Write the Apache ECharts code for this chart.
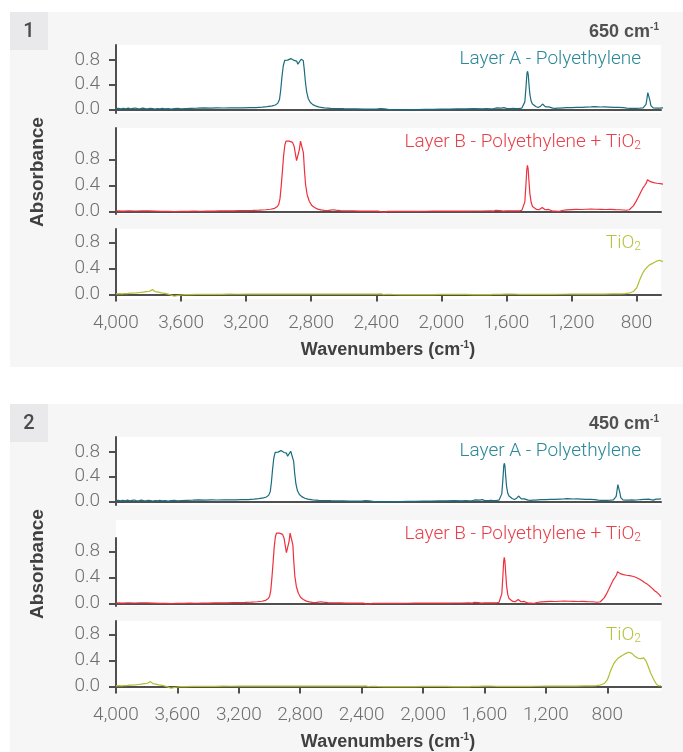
<!DOCTYPE html>
<html>
<head>
<meta charset="utf-8">
<title>Absorbance spectra</title>
<script src="https://cdn.jsdelivr.net/npm/echarts@6/dist/echarts.min.js"></script>
<style>
  html, body { margin: 0; padding: 0; background: #fff; }
  #chart { width: 683px; height: 752px; }
</style>
</head>
<body>
<div id="chart"></div>
<script>
// tick labels
const xTicks = [4000, 3600, 3200, 2800, 2400, 2000, 1600, 1200, 800];
const yTicks = [0, 0.4, 0.8];
const cutoffs = [650, 450];

// Layer A - Polyethylene
const layerAWn = [4000, 3985, 3970, 3955, 3940, 3925, 3910, 3895, 3880, 3865, 3850, 3835, 3820, 3805, 3790, 3775, 3760, 3745, 3730, 3715, 3700, 3680, 3660, 3640, 3620, 3600, 3570, 3540, 3500, 3460, 3420, 3380, 3340, 3300, 3260, 3220, 3180, 3140, 3100, 3070, 3040, 3020, 3005, 2995, 2988, 2980, 2972, 2963, 2955, 2945, 2935, 2925, 2915, 2905, 2897, 2890, 2882, 2876, 2870, 2862, 2855, 2849, 2843, 2836, 2828, 2818, 2805, 2790, 2770, 2750, 2720, 2680, 2640, 2600, 2560, 2520, 2480, 2440, 2400, 2375, 2365, 2350, 2340, 2320, 2280, 2240, 2200, 2150, 2100, 2050, 2000, 1950, 1900, 1850, 1800, 1750, 1720, 1700, 1680, 1660, 1650, 1630, 1615, 1600, 1590, 1575, 1560, 1540, 1520, 1505, 1495, 1487, 1480, 1474, 1470, 1466, 1462, 1456, 1448, 1440, 1430, 1420, 1405, 1390, 1378, 1370, 1360, 1350, 1340, 1330, 1315, 1300, 1285, 1270, 1250, 1230, 1200, 1170, 1140, 1110, 1080, 1060, 1040, 1020, 1000, 970, 940, 910, 880, 860, 840, 820, 800, 790, 780, 770, 760, 750, 742, 736, 731, 727, 723, 718, 712, 705, 698, 690, 680, 670, 660, 650, 640, 625, 610, 595, 580, 565, 550, 540, 532, 524, 515, 508, 500, 494, 488, 482, 478, 474, 470, 466, 462, 458, 454, 450];
const layerAAbs = [0.010, 0.014, 0.006, 0.016, 0.009, 0.018, 0.008, 0.015, 0.020, 0.007, 0.012, 0.019, 0.010, 0.006, 0.016, 0.011, 0.004, 0.013, 0.008, 0.015, 0.006, 0.012, 0.003, 0.010, 0.014, 0.009, 0.013, 0.016, 0.018, 0.022, 0.020, 0.024, 0.021, 0.023, 0.025, 0.022, 0.026, 0.028, 0.034, 0.042, 0.055, 0.070, 0.100, 0.160, 0.300, 0.520, 0.700, 0.790, 0.805, 0.795, 0.815, 0.820, 0.805, 0.790, 0.810, 0.780, 0.730, 0.720, 0.760, 0.810, 0.815, 0.790, 0.650, 0.450, 0.280, 0.170, 0.110, 0.075, 0.050, 0.035, 0.022, 0.016, 0.013, 0.010, 0.008, 0.006, 0.004, 0.003, 0.002, 0.012, -0.004, 0.008, 0.000, -0.004, -0.006, -0.008, -0.006, -0.004, -0.002, 0.000, 0.002, 0.004, 0.006, 0.008, 0.010, 0.008, 0.011, 0.006, 0.009, 0.022, 0.010, 0.018, 0.026, 0.014, 0.020, 0.012, 0.016, 0.010, 0.014, 0.020, 0.040, 0.120, 0.350, 0.580, 0.615, 0.560, 0.420, 0.240, 0.130, 0.085, 0.060, 0.045, 0.030, 0.050, 0.085, 0.070, 0.040, 0.030, 0.040, 0.030, 0.018, 0.015, 0.020, 0.018, 0.022, 0.026, 0.028, 0.032, 0.030, 0.034, 0.038, 0.042, 0.040, 0.037, 0.038, 0.036, 0.032, 0.030, 0.026, 0.020, 0.016, 0.014, 0.015, 0.012, 0.018, 0.015, 0.022, 0.035, 0.080, 0.180, 0.270, 0.290, 0.250, 0.140, 0.060, 0.030, 0.022, 0.018, 0.020, 0.017, 0.019, 0.020, 0.022, 0.018, 0.021, 0.025, 0.028, 0.030, 0.032, 0.040, 0.034, 0.028, 0.026, 0.030, 0.020, 0.026, 0.016, 0.034, 0.012, 0.030, 0.008, 0.036, 0.012, 0.044, 0.014, 0.040];

// Layer B - Polyethylene + TiO2
const layerBWn = [4000, 3960, 3920, 3880, 3840, 3800, 3760, 3720, 3680, 3640, 3600, 3560, 3520, 3480, 3440, 3400, 3360, 3320, 3280, 3240, 3200, 3160, 3120, 3080, 3050, 3025, 3010, 3000, 2992, 2985, 2977, 2970, 2962, 2955, 2945, 2935, 2925, 2915, 2905, 2897, 2890, 2885, 2880, 2873, 2866, 2860, 2854, 2848, 2842, 2835, 2825, 2812, 2798, 2780, 2760, 2740, 2720, 2700, 2680, 2665, 2650, 2620, 2580, 2540, 2500, 2460, 2420, 2390, 2375, 2365, 2355, 2345, 2330, 2300, 2250, 2200, 2150, 2100, 2050, 2000, 1950, 1900, 1850, 1800, 1750, 1700, 1680, 1665, 1655, 1640, 1620, 1600, 1560, 1520, 1505, 1495, 1487, 1480, 1475, 1471, 1467, 1462, 1456, 1448, 1440, 1430, 1415, 1400, 1390, 1380, 1372, 1362, 1350, 1340, 1330, 1318, 1300, 1285, 1270, 1250, 1230, 1200, 1170, 1140, 1110, 1080, 1050, 1020, 990, 960, 930, 900, 880, 865, 855, 845, 835, 820, 805, 790, 776, 762, 750, 740, 733, 728, 723, 715, 705, 695, 685, 675, 665, 655, 646, 635, 625, 615, 605, 595, 585, 575, 565, 555, 548, 540, 530, 520, 512, 505, 498, 492, 486, 480, 475, 470, 465, 460, 455, 450];
const layerBAbs = [0.012, 0.010, 0.013, 0.011, 0.014, 0.012, 0.010, 0.006, 0.004, 0.002, 0.004, 0.006, 0.008, 0.007, 0.009, 0.010, 0.012, 0.013, 0.014, 0.016, 0.018, 0.020, 0.024, 0.030, 0.038, 0.052, 0.075, 0.110, 0.200, 0.380, 0.620, 0.850, 1.020, 1.080, 1.085, 1.080, 1.075, 1.060, 1.000, 0.880, 0.780, 0.750, 0.780, 0.950, 1.080, 1.100, 1.060, 0.900, 0.650, 0.420, 0.260, 0.160, 0.100, 0.065, 0.040, 0.028, 0.020, 0.018, 0.025, 0.030, 0.024, 0.018, 0.014, 0.012, 0.010, 0.009, 0.008, 0.010, 0.002, 0.016, -0.010, 0.012, 0.004, 0.006, 0.005, 0.006, 0.006, 0.007, 0.008, 0.008, 0.009, 0.010, 0.010, 0.011, 0.011, 0.012, 0.010, 0.022, 0.012, 0.016, 0.010, 0.014, 0.012, 0.014, 0.022, 0.045, 0.150, 0.420, 0.640, 0.710, 0.660, 0.480, 0.280, 0.140, 0.080, 0.050, 0.035, 0.030, 0.045, 0.065, 0.055, 0.030, 0.020, 0.035, 0.022, 0.010, 0.008, 0.005, 0.010, 0.022, 0.028, 0.032, 0.036, 0.034, 0.038, 0.040, 0.038, 0.036, 0.034, 0.035, 0.032, 0.030, 0.026, 0.022, 0.020, 0.030, 0.050, 0.090, 0.150, 0.220, 0.290, 0.360, 0.400, 0.440, 0.490, 0.520, 0.490, 0.460, 0.450, 0.445, 0.440, 0.435, 0.432, 0.430, 0.428, 0.420, 0.412, 0.405, 0.395, 0.382, 0.370, 0.355, 0.340, 0.322, 0.310, 0.300, 0.280, 0.262, 0.245, 0.230, 0.212, 0.198, 0.200, 0.185, 0.170, 0.172, 0.150, 0.135, 0.120, 0.105];

// TiO2
const tio2Wn = [4000, 3980, 3960, 3945, 3930, 3915, 3905, 3895, 3885, 3875, 3865, 3855, 3845, 3835, 3825, 3815, 3805, 3795, 3785, 3776, 3768, 3760, 3750, 3740, 3730, 3720, 3710, 3700, 3690, 3680, 3670, 3660, 3650, 3642, 3635, 3625, 3615, 3600, 3580, 3550, 3500, 3450, 3400, 3350, 3300, 3250, 3200, 3150, 3100, 3050, 3000, 2950, 2900, 2850, 2800, 2750, 2700, 2650, 2600, 2550, 2500, 2450, 2400, 2370, 2355, 2340, 2300, 2250, 2200, 2150, 2100, 2050, 2000, 1950, 1900, 1850, 1800, 1760, 1720, 1700, 1680, 1640, 1600, 1560, 1540, 1520, 1480, 1440, 1400, 1350, 1300, 1250, 1200, 1150, 1100, 1050, 1000, 950, 900, 870, 850, 835, 820, 810, 800, 790, 780, 770, 760, 750, 740, 728, 715, 700, 690, 680, 670, 660, 650, 640, 630, 620, 610, 600, 590, 580, 570, 563, 556, 548, 540, 532, 524, 516, 508, 500, 492, 485, 478, 470, 462, 455, 450];
const tio2Abs = [0.010, 0.013, 0.008, 0.015, 0.012, 0.020, 0.010, 0.022, 0.014, 0.025, 0.018, 0.030, 0.020, 0.035, 0.028, 0.045, 0.030, 0.050, 0.040, 0.075, 0.055, 0.045, 0.050, 0.035, 0.040, 0.025, 0.030, 0.018, 0.020, 0.005, 0.010, -0.010, -0.005, -0.028, -0.010, -0.018, -0.012, -0.008, -0.004, -0.002, 0.000, 0.002, 0.003, 0.002, 0.004, 0.003, 0.005, 0.004, 0.006, 0.005, 0.006, 0.005, 0.007, 0.006, 0.007, 0.006, 0.007, 0.006, 0.006, 0.005, 0.005, 0.004, 0.004, 0.008, -0.004, 0.003, 0.000, -0.002, -0.003, -0.002, -0.002, -0.001, 0.000, 0.000, 0.001, 0.000, -0.001, -0.003, -0.004, -0.002, 0.000, 0.002, 0.004, 0.006, 0.003, 0.002, 0.000, 0.001, 0.000, 0.001, 0.002, 0.003, 0.004, 0.005, 0.005, 0.006, 0.006, 0.008, 0.010, 0.014, 0.020, 0.030, 0.045, 0.060, 0.100, 0.160, 0.230, 0.290, 0.340, 0.380, 0.410, 0.440, 0.465, 0.480, 0.495, 0.510, 0.522, 0.528, 0.525, 0.510, 0.490, 0.465, 0.445, 0.435, 0.428, 0.430, 0.438, 0.442, 0.430, 0.395, 0.350, 0.300, 0.250, 0.200, 0.160, 0.120, 0.085, 0.055, 0.030, 0.015, 0.008, 0.010, 0.012];

const AXIS = '#4f4f4f';
const TICKTEXT = '#6e6e6e';
const LIGHT = 'Roboto, "Liberation Sans", sans-serif';
const BOLD = '"Liberation Sans", Arial, sans-serif';

const layers = [
  {name: 'A', wn: layerAWn, abs: layerAAbs, line: '#1b6c7e', text: '#2a8898', label: '{t|Layer A - Polyethylene}'},
  {name: 'B', wn: layerBWn, abs: layerBAbs, line: '#ee2f3d', text: '#e9414c', label: '{t|Layer B - Polyethylene + TiO}{sub|2}'},
  {name: 'C', wn: tio2Wn, abs: tio2Abs, line: '#b2be2e', text: '#b9c33c', label: '{t|TiO}{sub|2}'}
];

// plot boxes inside one panel (panel 2 is shifted down by 392px)
const boxes = [
  {top: 45, height: 68, min: -0.06, max: 1.04, labelY: 59},
  {top: 128, height: 86, min: -0.035, max: 1.28, labelY: 142},
  {top: 229, height: 70, min: -0.07, max: 1.01, labelY: 243}
];

const grid = [], xAxis = [], yAxis = [], series = [], graphic = [];

cutoffs.forEach((cut, p) => {
  const off = p * 392;

  // grey panel + number box
  graphic.push({type: 'rect', z: -20, shape: {x: 10, y: 12 + off, width: 673, height: p ? 360 : 355}, style: {fill: '#f6f6f6'}});
  graphic.push({type: 'rect', z: -19, shape: {x: 10, y: 12 + off, width: 38, height: 38}, style: {fill: '#e9e9eb'}});
  graphic.push({type: 'text', z: 50, style: {text: String(p + 1), x: 29, y: 32 + off, align: 'center', verticalAlign: 'middle', font: '500 20px ' + LIGHT, fill: '#4a4a4a'}});
  graphic.push({type: 'text', z: 50, style: {
    text: '{b|' + cut + ' cm}{s|-1}', x: 659, y: 32 + off, align: 'right', verticalAlign: 'middle',
    rich: {b: {fontFamily: BOLD, fontWeight: 'bold', fontSize: 18, lineHeight: 20, fill: '#505050'},
           s: {fontFamily: BOLD, fontWeight: 'bold', fontSize: 10, lineHeight: 10, verticalAlign: 'top', fill: '#505050'}}
  }});
  graphic.push({type: 'text', z: 50, rotation: Math.PI / 2, x: 38, y: 172 + off, style: {
    text: 'Absorbance', x: 0, y: 0, align: 'center', verticalAlign: 'middle', font: 'bold 19px ' + BOLD, fill: '#404040'
  }});
  graphic.push({type: 'text', z: 50, style: {
    text: '{b|Wavenumbers (cm}{s|-1}{b|)}', x: 388, y: 350 + off, align: 'center', verticalAlign: 'middle',
    rich: {b: {fontFamily: BOLD, fontWeight: 'bold', fontSize: 18, lineHeight: 20, fill: '#404040'},
           s: {fontFamily: BOLD, fontWeight: 'bold', fontSize: 10, lineHeight: 10, verticalAlign: 'top', fill: '#404040'}}
  }});

  layers.forEach((layer, i) => {
    let box = boxes[i];
    // panel 2, layer B: axis line stops lower than the white box
    if (p === 1 && i === 1) {
      graphic.push({type: 'rect', z: -10, shape: {x: 116, y: 520 - 392 + off, width: 545, height: 18}, style: {fill: '#fff'}});
      box = {top: 146, height: 68, min: -0.035, max: 1.005, labelY: 142};
    }
    const idx = grid.length;
    grid.push({show: true, backgroundColor: '#fff', borderWidth: 0, left: 116, width: 545, top: box.top + off, height: box.height});

    const bottom = i === 2;
    xAxis.push({
      gridIndex: idx, type: 'value', inverse: true, min: cut, max: 4000,
      axisLine: {show: true, lineStyle: {color: AXIS, width: 2}},
      axisTick: {show: bottom, length: 7, lineStyle: {color: AXIS, width: 2}, customValues: xTicks},
      axisLabel: {show: bottom, customValues: xTicks, margin: 15, fontFamily: LIGHT, fontWeight: 300, fontSize: 19, color: TICKTEXT,
        formatter: v => v.toLocaleString('en-US')},
      splitLine: {show: false}
    });
    yAxis.push({
      gridIndex: idx, type: 'value', min: box.min, max: box.max,
      axisLine: {show: true, lineStyle: {color: AXIS, width: 2}},
      axisTick: {show: true, length: 7, lineStyle: {color: AXIS, width: 2}, customValues: yTicks},
      axisLabel: {customValues: yTicks, margin: 16, fontFamily: LIGHT, fontWeight: 300, fontSize: 19, color: TICKTEXT,
        formatter: v => v.toFixed(1)},
      splitLine: {show: false}
    });
    series.push({
      type: 'line', xAxisIndex: idx, yAxisIndex: idx, showSymbol: false, animation: false,
      clip: !(p === 1 && i === 1),
      lineStyle: {color: layer.line, width: 1.2},
      data: layer.wn.map((w, k) => [w, layer.abs[k]])
    });
    graphic.push({type: 'text', z: 50, style: {
      text: layer.label, x: 641, y: box.labelY + off, align: 'right', verticalAlign: 'middle',
      rich: {t: {fontFamily: LIGHT, fontWeight: 300, fontSize: 19, lineHeight: 20, fill: layer.text},
             sub: {fontFamily: LIGHT, fontWeight: 300, fontSize: 12, lineHeight: 12, verticalAlign: 'bottom', fill: layer.text}}
    }});
  });
});

const chart = echarts.init(document.getElementById('chart'));
chart.setOption({
  backgroundColor: '#fff',
  animation: false,
  grid, xAxis, yAxis, series, graphic
});
</script>
</body>
</html>
